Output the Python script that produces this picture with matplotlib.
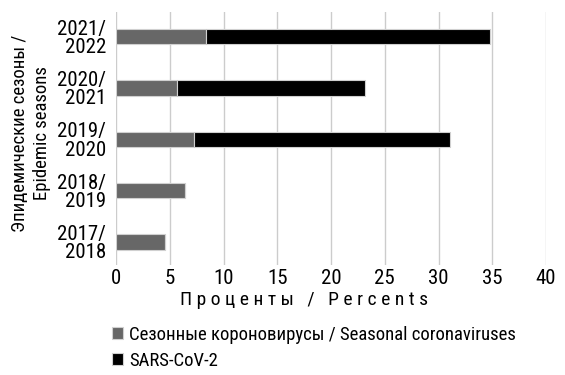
import matplotlib
matplotlib.use("Agg")
import matplotlib.pyplot as plt
import numpy as np

plt.rcParams['font.family'] = ['Liberation Sans Narrow', 'Roboto Condensed', 'DejaVu Sans']

seasons = ["2017/\n2018", "2018/\n2019", "2019/\n2020", "2020/\n2021", "2021/\n2022"]
seasonal_cov = [4.6, 6.4, 7.3, 5.7, 8.4]
sars_cov2 = [0, 0, 23.8, 17.5, 26.4]
xticks = [0, 5, 10, 15, 20, 25, 30, 35, 40]

fig = plt.figure(figsize=(5.65, 3.75), dpi=100)
ax = fig.add_axes([116 / 565, 1 - 265 / 375, 430 / 565, 253 / 375])

y = np.arange(len(seasons))
ax.barh(y, seasonal_cov, height=0.3, color='#676767', edgecolor='#d0d0d0', linewidth=0.8,
        label='Сезонные короновирусы / Seasonal coronaviruses', zorder=3)
ax.barh(y, sars_cov2, left=seasonal_cov, height=0.3, color='#000000', edgecolor='#d0d0d0',
        linewidth=0.8, label='SARS-CoV-2', zorder=3)

ax.set_xlim(0, 40)
ax.set_ylim(-0.45, 4.48)
ax.set_xticks(xticks)
ax.set_yticks(y)
ax.set_yticklabels(seasons, fontsize=15, linespacing=0.95)
ax.tick_params(axis='x', labelsize=15, length=0, pad=3)
ax.tick_params(axis='y', length=0, pad=7)
ax.grid(axis='x', color='#cccccc', linewidth=1.0, zorder=0)
for s in ax.spines.values():
    s.set_visible(False)

fig.text(304 / 565, 1 - 300 / 375, "П р о ц е н т ы   /   P e r c e n t s", fontsize=14,
         ha='center', va='center')
fig.text(31 / 565, 1 - 133 / 375, "Эпидемические сезоны /\nEpidemic seasons", fontsize=13.5,
         rotation=90, ha='center', va='center', linespacing=1.3)

ax.legend(loc='upper left', bbox_to_anchor=(104 / 565, 1 - 318 / 375), bbox_transform=fig.transFigure,
          frameon=False, fontsize=13.5, handlelength=0.6, handleheight=0.6, handletextpad=0.35,
          labelspacing=0.45, borderaxespad=0)

plt.savefig('out.png', dpi=100)
